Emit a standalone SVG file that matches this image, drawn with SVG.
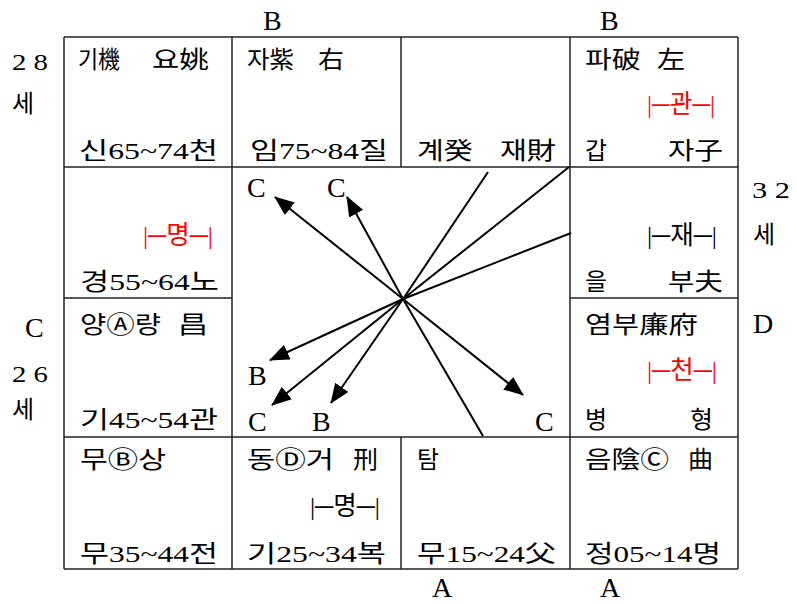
<svg xmlns="http://www.w3.org/2000/svg" width="797" height="604" viewBox="0 0 797 604">
<style>
text{font-family:'Liberation Serif','Noto Sans CJK KR',serif;font-size:24px;fill:#000}
.r{fill:#f00}
.b{font-size:26px}
.l{font-size:28px}
.s{font-size:24px}
.grid line{stroke:#222;stroke-width:1.5}
.conn line{stroke:#000;stroke-width:2}
</style>
<defs>
<marker id="ah" markerUnits="userSpaceOnUse" markerWidth="20" markerHeight="16" refX="19" refY="8" orient="auto">
<path d="M0,0 L20,8 L0,16 Z" fill="#000"/>
</marker>
</defs>
<rect width="797" height="604" fill="#fff"/>
<g class="grid">
<line x1="64" y1="37" x2="738" y2="37"/>
<line x1="64" y1="167" x2="738" y2="167"/>
<line x1="64" y1="298" x2="232" y2="298"/>
<line x1="570" y1="298" x2="738" y2="298"/>
<line x1="64" y1="437" x2="738" y2="437"/>
<line x1="64" y1="569" x2="738" y2="569"/>
<line x1="64" y1="37" x2="64" y2="569"/>
<line x1="232" y1="37" x2="232" y2="569"/>
<line x1="401" y1="37" x2="401" y2="167"/>
<line x1="401" y1="437" x2="401" y2="569"/>
<line x1="570" y1="37" x2="570" y2="569"/>
<line x1="738" y1="37" x2="738" y2="569"/>
</g>
<g id="outer-labels">
<text class="l" x="263" y="30">B</text>
<text class="l" x="600" y="30">B</text>
<text class="l" x="432" y="597">A</text>
<text class="l" x="600" y="597">A</text>
<text class="l" x="753" y="333">D</text>
<text class="l" x="25" y="337">C</text>
<text class="s" x="12" y="70" textLength="36" lengthAdjust="spacingAndGlyphs">2 8</text>
<text x="12" y="112">세</text>
<text class="s" x="752" y="198" textLength="38" lengthAdjust="spacingAndGlyphs">3 2</text>
<text x="753" y="243">세</text>
<text class="s" x="12" y="382" textLength="36" lengthAdjust="spacingAndGlyphs">2 6</text>
<text x="12" y="418">세</text>
</g>
<g id="cell-r1c1">
<text x="78" y="68" textLength="42" lengthAdjust="spacingAndGlyphs">기機</text>
<text x="152" y="68" textLength="57" lengthAdjust="spacingAndGlyphs">요姚</text>
<text x="79" y="159" textLength="139" lengthAdjust="spacingAndGlyphs">신65~74천</text>
</g>
<g id="cell-r1c2">
<text x="247" y="68" textLength="47" lengthAdjust="spacingAndGlyphs">자紫</text>
<text x="318" y="68" textLength="26" lengthAdjust="spacingAndGlyphs">右</text>
<text x="250" y="159" textLength="138" lengthAdjust="spacingAndGlyphs">임75~84질</text>
</g>
<g id="cell-r1c3">
<text x="417" y="159" textLength="56" lengthAdjust="spacingAndGlyphs">계癸</text>
<text x="500" y="159" textLength="56" lengthAdjust="spacingAndGlyphs">재財</text>
</g>
<g id="cell-r1c4">
<text x="585" y="68" textLength="56" lengthAdjust="spacingAndGlyphs">파破</text>
<text x="657" y="68" textLength="28" lengthAdjust="spacingAndGlyphs">左</text>
<text class="r b" x="647" y="113" textLength="68" lengthAdjust="spacingAndGlyphs">|─관─|</text>
<text x="585" y="159" textLength="22" lengthAdjust="spacingAndGlyphs">갑</text>
<text x="668" y="159" textLength="55" lengthAdjust="spacingAndGlyphs">자子</text>
</g>
<g id="cell-r2c1">
<text class="r b" x="143" y="244" textLength="70" lengthAdjust="spacingAndGlyphs">|─명─|</text>
<text x="80" y="290" textLength="139" lengthAdjust="spacingAndGlyphs">경55~64노</text>
</g>
<g id="cell-r2c4">
<text class="b" x="647" y="244" textLength="70" lengthAdjust="spacingAndGlyphs">|─재─|</text>
<text x="585" y="290" textLength="22" lengthAdjust="spacingAndGlyphs">을</text>
<text x="668" y="290" textLength="55" lengthAdjust="spacingAndGlyphs">부夫</text>
</g>
<g id="cell-r3c1">
<text x="80" y="333" textLength="81" lengthAdjust="spacingAndGlyphs">양Ⓐ량</text>
<text x="178" y="333" textLength="30" lengthAdjust="spacingAndGlyphs">昌</text>
<text x="80" y="428" textLength="138" lengthAdjust="spacingAndGlyphs">기45~54관</text>
</g>
<g id="cell-r3c4">
<text x="585" y="333" textLength="113" lengthAdjust="spacingAndGlyphs">염부廉府</text>
<text class="r b" x="647" y="379" textLength="70" lengthAdjust="spacingAndGlyphs">|─천─|</text>
<text x="585" y="428" textLength="22" lengthAdjust="spacingAndGlyphs">병</text>
<text x="690" y="428" textLength="23" lengthAdjust="spacingAndGlyphs">형</text>
</g>
<g id="cell-r4c1">
<text x="80" y="468" textLength="86" lengthAdjust="spacingAndGlyphs">무Ⓑ상</text>
<text x="80" y="562" textLength="138" lengthAdjust="spacingAndGlyphs">무35~44전</text>
</g>
<g id="cell-r4c2">
<text x="247" y="468" textLength="87" lengthAdjust="spacingAndGlyphs">동Ⓓ거</text>
<text x="353" y="468" textLength="25" lengthAdjust="spacingAndGlyphs">刑</text>
<text class="b" x="310" y="515" textLength="70" lengthAdjust="spacingAndGlyphs">|─명─|</text>
<text x="247" y="562" textLength="139" lengthAdjust="spacingAndGlyphs">기25~34복</text>
</g>
<g id="cell-r4c3">
<text x="417" y="468" textLength="22" lengthAdjust="spacingAndGlyphs">탐</text>
<text x="417" y="562" textLength="139" lengthAdjust="spacingAndGlyphs">무15~24父</text>
</g>
<g id="cell-r4c4">
<text x="585" y="468" textLength="84" lengthAdjust="spacingAndGlyphs">음陰Ⓒ</text>
<text x="688" y="468" textLength="25" lengthAdjust="spacingAndGlyphs">曲</text>
<text x="585" y="562" textLength="136" lengthAdjust="spacingAndGlyphs">정05~14명</text>
</g>
<g id="center-labels">
<text class="l" x="247" y="197">C</text>
<text class="l" x="327" y="197">C</text>
<text class="l" x="248" y="385">B</text>
<text class="l" x="248" y="431">C</text>
<text class="l" x="312" y="431">B</text>
<text class="l" x="535" y="431">C</text>
</g>
<g class="conn" id="connectors">
<line x1="403" y1="299" x2="275" y2="197" marker-end="url(#ah)"/>
<line x1="403" y1="299" x2="347" y2="197" marker-end="url(#ah)"/>
<line x1="403" y1="299" x2="270" y2="360" marker-end="url(#ah)"/>
<line x1="403" y1="299" x2="272" y2="405" marker-end="url(#ah)"/>
<line x1="403" y1="299" x2="331" y2="403" marker-end="url(#ah)"/>
<line x1="403" y1="299" x2="523" y2="395" marker-end="url(#ah)"/>
<line x1="403" y1="299" x2="488" y2="172"/>
<line x1="403" y1="299" x2="569" y2="167"/>
<line x1="403" y1="299" x2="571" y2="233"/>
<line x1="403" y1="299" x2="483" y2="436"/>
</g>
</svg>
